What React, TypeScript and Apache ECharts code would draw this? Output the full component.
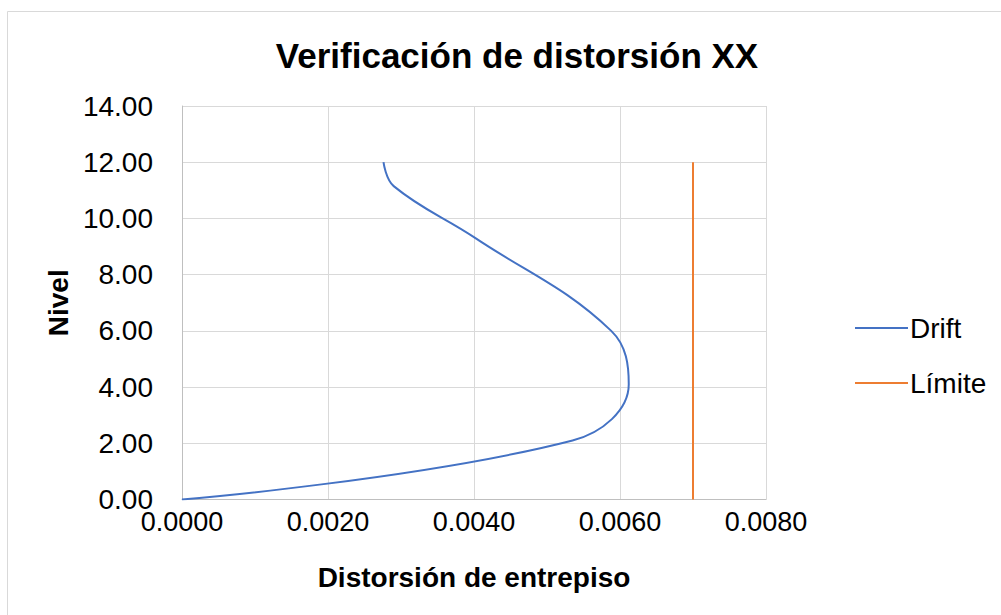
import React, { useEffect, useRef } from "react";
import * as echarts from "echarts";

// Inter-storey drift per level (X direction)
const driftXX = [0, 0.00535, 0.00612, 0.00588, 0.00402, 0.0029, 0.00276];
const nivel = [0, 2.1, 4.1, 6.0, 9.3, 11.15, 12.0];

// Code drift limit drawn as a vertical line
const limiteX = [0.007, 0.007];
const limiteNivel = [0, 12];

const xTicks = { min: 0, max: 0.008, interval: 0.002 };
const yTicks = { min: 0, max: 14, interval: 2 };

const FONT = "'Liberation Sans', Arial, sans-serif";

export default function App() {
  const ref = useRef<HTMLDivElement>(null);

  useEffect(() => {
    if (!ref.current) return;
    const chart = echarts.init(ref.current, undefined, { renderer: "svg" });
    chart.setOption({
      animation: false,
      backgroundColor: "#ffffff",
      textStyle: { fontFamily: FONT },
      title: {
        text: "Verificación de distorsión XX",
        left: 512,
        textAlign: "center",
        top: 33,
        textStyle: { fontFamily: FONT, fontSize: 35, fontWeight: "bold", color: "#000" },
      },
      graphic: [
        {
          type: "rect",
          shape: { x: 7.5, y: 11.5, width: 1000, height: 620 },
          style: { fill: "none", stroke: "#d9d9d9", lineWidth: 1 },
          silent: true,
        },
      ],
      legend: {
        orient: "vertical",
        left: 850,
        top: 309,
        itemWidth: 53,
        itemHeight: 2,
        itemGap: 27,
        icon: "rect",
        textStyle: { fontFamily: FONT, fontSize: 28, color: "#000", padding: [0, 0, 0, -3] },
        data: ["Drift", "Límite"],
      },
      grid: { left: 182, right: 235, top: 106, bottom: 115.5, containLabel: false },
      xAxis: {
        type: "value",
        min: xTicks.min,
        max: xTicks.max,
        interval: xTicks.interval,
        name: "Distorsión de entrepiso",
        nameLocation: "middle",
        nameGap: 64,
        nameTextStyle: { fontFamily: FONT, fontSize: 28, fontWeight: "bold", color: "#000" },
        axisLine: { show: true, lineStyle: { color: "#bfbfbf", width: 1 } },
        axisTick: { show: false },
        splitLine: { show: true, lineStyle: { color: "#d9d9d9", width: 1 } },
        axisLabel: {
          fontFamily: FONT,
          fontSize: 27,
          color: "#000",
          margin: 9,
          formatter: (v: number) => v.toFixed(4),
        },
      },
      yAxis: {
        type: "value",
        min: yTicks.min,
        max: yTicks.max,
        interval: yTicks.interval,
        name: "Nivel",
        nameLocation: "middle",
        nameGap: 105,
        nameRotate: 90,
        nameTextStyle: { fontFamily: FONT, fontSize: 28, fontWeight: "bold", color: "#000" },
        axisLine: { show: true, lineStyle: { color: "#bfbfbf", width: 1 } },
        axisTick: { show: false },
        splitLine: { show: true, lineStyle: { color: "#d9d9d9", width: 1 } },
        axisLabel: {
          fontFamily: FONT,
          fontSize: 28,
          color: "#000",
          margin: 29,
          formatter: (v: number) => v.toFixed(2),
        },
      },
      series: [
        {
          name: "Drift",
          type: "line",
          data: driftXX.map((x, i) => [x, nivel[i]]),
          smooth: 0.4,
          showSymbol: false,
          symbol: "none",
          lineStyle: { color: "#4472C4", width: 2 },
          itemStyle: { color: "#4472C4" },
        },
        {
          name: "Límite",
          type: "line",
          data: limiteX.map((x, i) => [x, limiteNivel[i]]),
          showSymbol: false,
          symbol: "none",
          lineStyle: { color: "#ED7D31", width: 2 },
          itemStyle: { color: "#ED7D31" },
        },
      ],
    });
    return () => chart.dispose();
  }, []);

  return (
    <div
      ref={ref}
      style={{ position: "fixed", left: 0, top: 0, width: 1001, height: 615, background: "#fff" }}
    />
  );
}
